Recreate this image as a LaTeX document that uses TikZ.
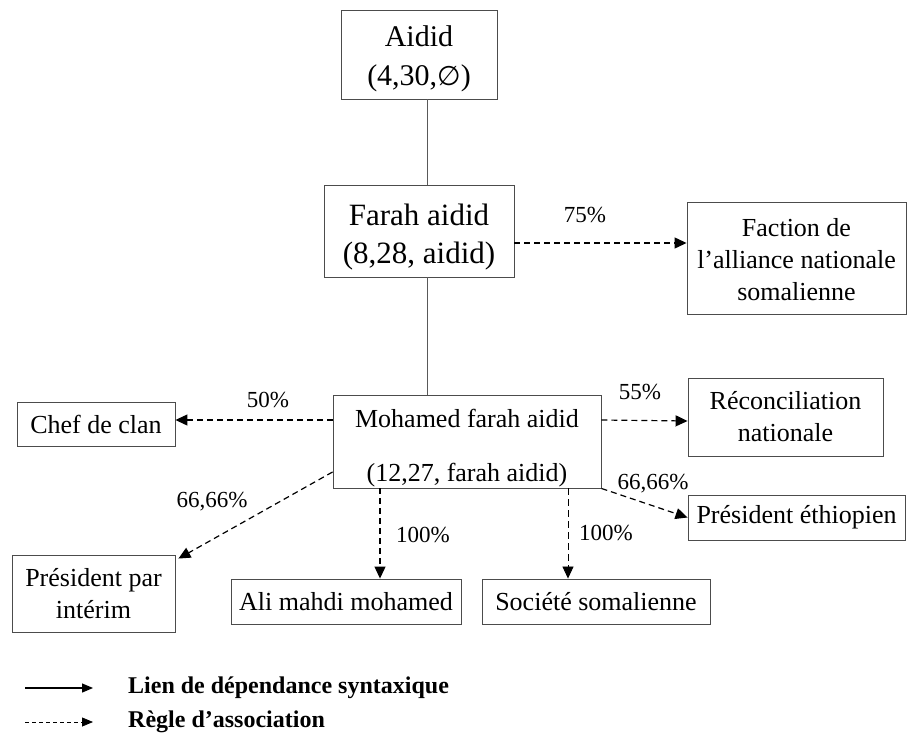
\documentclass[tikz,border=0pt]{standalone}
\usepackage{fontspec}
\setmainfont{Liberation Serif}
\newfontfamily\symf{DejaVu Sans}
\usetikzlibrary{arrows.meta}
\tikzset{
  box/.style={draw=black!70, line width=0.9pt, inner sep=0pt, align=center, text=black},
  bigtxt/.style={font=\fontsize{30}{39}\selectfont},
  midtxt/.style={font=\fontsize{26}{32}\selectfont},
  pct/.style={font=\fontsize{23}{26}\selectfont, inner sep=0pt},
  dep/.style={draw=black!65, line width=0.9pt},
  assoc/.style={draw=black, line width=1.2pt, dash pattern=on 6pt off 4pt, -{Triangle[length=12pt,width=11pt]}},
  legtxt/.style={font=\bfseries\fontsize{24}{26}\selectfont, anchor=west, inner sep=0pt}
}
\begin{document}
\begin{tikzpicture}[x=1pt,y=-1pt]
\useasboundingbox[fill=white] (0,0) rectangle (907,743);
% boxes
\node[box,bigtxt,minimum width=156pt,minimum height=89pt] (aidid) at (419,54.5) {\rule{0pt}{30pt}Aidid\\(4,30,{\symf\fontsize{27}{30}\selectfont ∅})};
\node[box,minimum width=190pt,minimum height=92pt,font=\fontsize{31}{38}\selectfont] (farah) at (419,231) {\rule{0pt}{33pt}Farah aidid\\(8,28, aidid)};
\node[box,midtxt,minimum width=219pt,minimum height=112pt] (faction) at (796.5,258) {\rule{0pt}{22pt}Faction de\\l’alliance nationale\\somalienne};
\node[box,minimum width=268pt,minimum height=93pt,font=\fontsize{26}{54}\selectfont] (mohamed) at (467,441.5) {\rule{0pt}{32pt}Mohamed farah aidid\\(12,27, farah aidid)};
\node[box,midtxt,minimum width=158pt,minimum height=44pt] (chef) at (96,424) {Chef de clan};
\node[box,midtxt,minimum width=195pt,minimum height=78pt] (recon) at (785.5,417) {Réconciliation\\nationale};
\node[box,midtxt,minimum width=163pt,minimum height=77pt] (pintr) at (93.5,593.5) {Président par\\intérim};
\node[box,midtxt,minimum width=230pt,minimum height=45pt] (ali) at (346,601.5) {Ali mahdi mohamed};
\node[box,midtxt,minimum width=228pt,minimum height=45pt] (soc) at (596,601.5) {Société somalienne};
\node[box,midtxt,minimum width=217pt,minimum height=45pt] (peth) at (796.5,517.5) {Président éthiopien};
% dependency links
\draw[dep] ([xshift=8pt]aidid.south) -- ([xshift=8pt]farah.north);
\draw[dep] ([xshift=8pt]farah.south) -- ([xshift=-40pt]mohamed.north);
% association rules
\draw[assoc] ([yshift=-12pt]farah.east) -- ([yshift=15pt]faction.west);
\draw[assoc] ([yshift=21.5pt]mohamed.west) -- ([yshift=4pt]chef.east);
\draw[assoc] ([yshift=21.5pt]mohamed.east) -- ([yshift=-4pt]recon.west);
\draw[assoc] ([yshift=-30.5pt]mohamed.west) -- ([xshift=3pt,yshift=-4pt]pintr.north east);
\draw[assoc] (mohamed.south east) -- (peth.west);
\draw[assoc] ([xshift=-87pt]mohamed.south) -- ([xshift=34pt]ali.north);
\draw[assoc,line width=0.8pt,dash pattern=on 7pt off 4pt] ([xshift=101pt]mohamed.south) -- ([xshift=-28pt]soc.north);
% labels
\node[pct] (l75) at (585,215) {75\%};
\node[pct] (l50) at (268,400) {50\%};
\node[pct] (l55) at (640,392) {55\%};
\node[pct] (l66a) at (212,502) {66,66\%};
\node[pct] (l66b) at (653,484) {66,66\%};
\node[pct] (l100a) at (423,535) {100\%};
\node[pct] (l100b) at (606,533) {100\%};
% legend
\node[legtxt] (lt1) at (128,688) {Lien de dépendance syntaxique};
\node[legtxt] (lt2) at (128,722) {Règle d’association};
\coordinate (lg1) at (25,688);
\coordinate (lg2) at (25,722);
\draw[line width=1.3pt,-{Triangle[length=11pt,width=9pt]}] (lg1) -- ([xshift=-35pt]lt1.west);
\draw[line width=0.8pt,dash pattern=on 4pt off 3pt,-{Triangle[length=11pt,width=9pt]}] (lg2) -- ([xshift=-35pt]lt2.west);
\end{tikzpicture}
\end{document}
